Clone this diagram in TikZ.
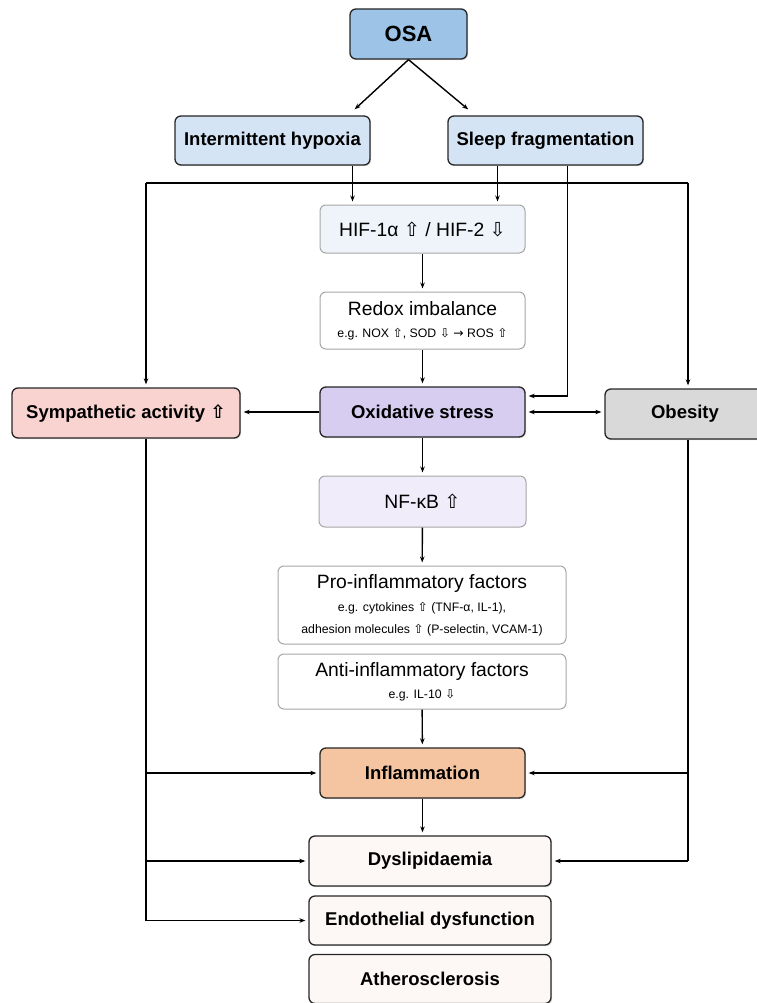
\documentclass[tikz,border=0pt]{standalone}
\usepackage{fontspec}
\setmainfont{Liberation Sans}
\newfontfamily\symfont{DejaVu Sans}
\usetikzlibrary{arrows.meta,shadows}

\definecolor{osablue}{HTML}{9DC3E6}
\definecolor{paleblue}{HTML}{D5E4F5}
\definecolor{hifblue}{HTML}{EEF4FA}
\definecolor{oxviolet}{HTML}{D6CDF1}
\definecolor{nfviolet}{HTML}{F0ECFA}
\definecolor{symppink}{HTML}{F9D3CF}
\definecolor{obesgray}{HTML}{D9D9D9}
\definecolor{inflorange}{HTML}{F5C4A0}
\definecolor{endcream}{HTML}{FDF8F6}

\newcommand{\upa}{{\symfont ⇧}}
\newcommand{\dna}{{\symfont ⇩}}
\newcommand{\ria}{{\symfont →}}
\newcommand{\subfont}{\fontsize{12.3}{14.5}\selectfont}

\begin{document}
\begin{tikzpicture}[x=1pt,y=-1pt,
  mainbox/.style={draw=black!85, line width=1.3pt, rounded corners=6pt,
    align=center, inner sep=0pt, text=black,
    font=\bfseries\fontsize{18.5}{22}\selectfont,
    drop shadow={shadow xshift=1.2pt, shadow yshift=-1.2pt, opacity=0.25}},
  softbox/.style={draw=black!35, line width=1pt, rounded corners=6pt,
    align=center, inner sep=0pt, text=black,
    font=\fontsize{19.3}{22}\selectfont},
  arr/.style={-{Stealth[length=6pt,width=4.5pt]}, line width=1.4pt, shorten >=3pt},
  dblarr/.style={{Stealth[length=6pt,width=4.5pt]}-{Stealth[length=6pt,width=4.5pt]},
    line width=1.4pt, shorten >=3pt, shorten <=3pt},
  bus/.style={line width=1.4pt}]

\useasboundingbox (0,0) rectangle (756,1003);

% top level
\node[mainbox, fill=osablue, minimum width=117pt, minimum height=50pt,
  font=\bfseries\fontsize{22}{26}\selectfont] (osa) at (408.5,34) {OSA};
\node[mainbox, fill=paleblue, minimum width=195pt, minimum height=49pt] (ih) at (272.5,140.5) {Intermittent hypoxia};
\node[mainbox, fill=paleblue, minimum width=195pt, minimum height=49pt] (sf) at (545.5,140.5) {Sleep fragmentation};

% central chain
\node[softbox, fill=hifblue, minimum width=205pt, minimum height=48pt] (hif) at (422.5,229) {HIF-1α \upa{} / HIF-2 \dna};
\node[softbox, fill=white, minimum width=205pt, minimum height=57pt] (redox) at (422.5,320.5)
  {Redox imbalance\\[0pt]{\subfont e.g. NOX \upa, SOD \dna{} \ria{} ROS \upa}};
\node[mainbox, fill=oxviolet, minimum width=205pt, minimum height=50pt] (ox) at (422.5,412) {Oxidative stress};
\node[mainbox, fill=symppink, minimum width=228pt, minimum height=50pt] (symp) at (126,413) {Sympathetic activity \upa};
\node[mainbox, fill=obesgray, minimum width=160pt, minimum height=50pt] (obes) at (685,414) {Obesity};
\node[softbox, fill=nfviolet, minimum width=207pt, minimum height=51pt] (nfkb) at (422.5,501.5) {NF-κB \upa};
\node[softbox, fill=white, minimum width=288pt, minimum height=78pt] (pro) at (422,605)
  {Pro-inflammatory factors\\[1pt]{\subfont e.g. cytokines \upa{} (TNF-α, IL-1),}\\{\subfont adhesion molecules \upa{} (P-selectin, VCAM-1)}};
\node[softbox, fill=white, minimum width=288pt, minimum height=55pt] (anti) at (422,681.5)
  {Anti-inflammatory factors\\[0pt]{\subfont e.g. IL-10 \dna}};

% outcomes
\node[mainbox, fill=inflorange, minimum width=205pt, minimum height=50pt] (infl) at (422.5,773) {Inflammation};
\node[mainbox, fill=endcream, minimum width=242pt, minimum height=50pt] (dysl) at (430,861) {Dyslipidaemia};
\node[mainbox, fill=endcream, minimum width=242pt, minimum height=49pt] (endo) at (430,920.5) {Endothelial dysfunction};
\node[mainbox, fill=endcream, minimum width=242pt, minimum height=49pt] (athe) at (430,979) {Atherosclerosis};

% OSA split
\draw[arr] (osa.south) -- ([xshift=80pt,yshift=4pt]ih.north);
\draw[arr] (osa.south) -- ([xshift=-75pt,yshift=4pt]sf.north);

% top bus
\coordinate (tl) at (146,183);
\coordinate (tr) at (688,183);
\draw[bus] (tl) -- (tr);
\draw[arr] (tl) -- (tl |- symp.north);
\draw[arr] (tr) -- (tr |- obes.north);

\draw[arr] ([xshift=80pt]ih.south) -- ([xshift=80pt]ih.south |- hif.north);
\draw[arr] ([xshift=-48pt]sf.south) -- ([xshift=-48pt]sf.south |- hif.north);
\draw[arr] ([xshift=22pt]sf.south) |- ([yshift=16pt]ox.east);

\draw[arr] (hif) -- (redox);
\draw[arr] (redox) -- (ox);
\draw[arr] (ox.west) -- (symp.east |- ox.west);
\draw[dblarr] (ox.east) -- (obes.west |- ox.east);
\draw[arr] (ox) -- (nfkb);
\draw[arr] (nfkb) -- (pro);
\draw[arr] (anti) -- (infl);
\draw[arr] (infl.south) -- (infl.south |- dysl.north);

% left bus
\draw[bus] (tl |- symp.south) -- (tl |- endo.west);
\draw[arr] (tl |- infl.west) -- (infl.west);
\draw[arr] (tl |- dysl.west) -- (dysl.west);
\draw[arr] (tl |- endo.west) -- (endo.west);

% right bus
\draw[bus] (tr |- obes.south) -- (tr |- dysl.east);
\draw[arr] (tr |- infl.east) -- (infl.east);
\draw[arr] (tr |- dysl.east) -- (dysl.east);
\end{tikzpicture}
\end{document}
